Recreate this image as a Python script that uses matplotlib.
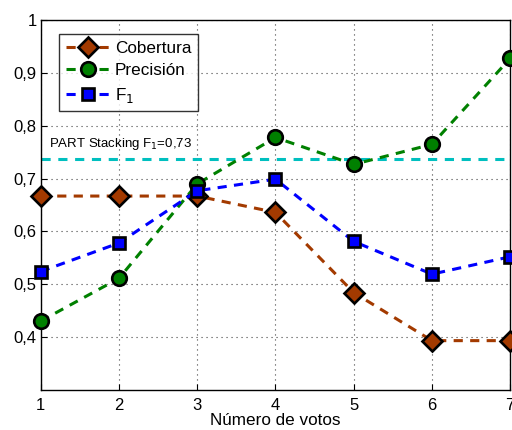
import matplotlib
matplotlib.use("Agg")
import matplotlib.pyplot as plt

plt.rcParams['font.family'] = ['Liberation Sans', 'DejaVu Sans']

votos = [1, 2, 3, 4, 5, 6, 7]
cobertura = [0.667, 0.667, 0.667, 0.636, 0.484, 0.393, 0.393]
precision = [0.430, 0.511, 0.690, 0.778, 0.727, 0.765, 0.928]
f1 = [0.524, 0.578, 0.677, 0.699, 0.581, 0.519, 0.552]
part_stacking = 0.737
yticks = [0.4, 0.5, 0.6, 0.7, 0.8, 0.9, 1.0]
ytick_labels = ['0,4', '0,5', '0,6', '0,7', '0,8', '0,9', '1']

fig = plt.figure(figsize=(5.12, 4.30), dpi=100)
ax = fig.add_axes([0.0795, 0.0937, 0.917, 0.859])

ax.axhline(part_stacking, color='#00BFBF', lw=2.2, dashes=(3, 2.5), zorder=2)

dash = (3.0, 2.4)
ax.plot(votos, cobertura, color='#A33A00', lw=2.2, dashes=dash, marker='D',
        markersize=10.5, markerfacecolor='#A33A00', markeredgecolor='black',
        markeredgewidth=1.9, label='Cobertura', clip_on=False, zorder=3)
ax.plot(votos, precision, color='#008000', lw=2.2, dashes=dash, marker='o',
        markersize=10.5, markerfacecolor='#008000', markeredgecolor='black',
        markeredgewidth=1.9, label='Precisión', clip_on=False, zorder=4)
ax.plot(votos, f1, color='#0000FF', lw=2.2, dashes=dash, marker='s',
        markersize=8.8, markerfacecolor='#0000FF', markeredgecolor='black',
        markeredgewidth=1.9, label='F$_1$', clip_on=False, zorder=5)

ax.set_xlim(1, 7)
ax.set_ylim(0.3, 1.0)
ax.set_xticks(votos)
ax.set_yticks(yticks)
ax.set_yticklabels(ytick_labels)
ax.tick_params(labelsize=12, direction='in', length=4, width=0.8)
ax.tick_params(axis='y', pad=3)
ax.tick_params(axis='x', pad=6)
ax.grid(True, color='#444444', linestyle=(0, (1, 3.5)), lw=0.8)
for s in ax.spines.values():
    s.set_linewidth(1.0)

ax.set_xlabel('Número de votos', fontsize=12.3, labelpad=0)

ax.text(0.018, 0.665, 'PART Stacking F$_1$=0,73', transform=ax.transAxes,
        fontsize=9.5, va='center', ha='left')

leg = ax.legend(loc='upper left', bbox_to_anchor=(0.04, 0.962), fontsize=12.3,
                frameon=True, fancybox=False, handlelength=2.5,
                borderpad=0.4, labelspacing=0.42, handletextpad=0.35,
                borderaxespad=0)
leg.get_frame().set_edgecolor('black')
leg.get_frame().set_linewidth(1.0)

fig.savefig('out.png', dpi=100)
